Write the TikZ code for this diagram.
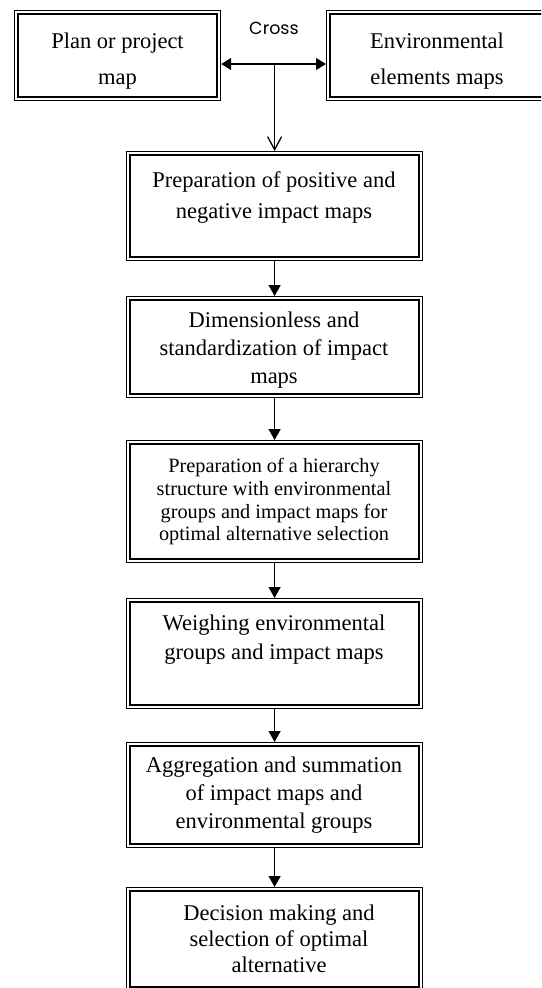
\documentclass[tikz,border=0pt]{standalone}
\usepackage{fontspec}
\setmainfont{Liberation Serif}
\newfontfamily\crossfont{Poppins}
\usetikzlibrary{arrows.meta,calc}
\newcommand\dblbox[5]{%
  \node[box, minimum width=#4pt, minimum height=#5pt] (#1) at (#2,#3) {};
  \draw[inner] ($(#1.north west)+(4pt,-4pt)$) rectangle ($(#1.south east)+(-4pt,4pt)$);
}
\begin{document}
\begin{tikzpicture}[x=1pt,y=-1pt,
  box/.style={draw, line width=1.2pt, inner sep=0pt, anchor=north west},
  inner/.style={line width=2.4pt},
  lbl/.style={anchor=north, align=center, inner sep=0pt, font=\fontsize{22.5}{28}\selectfont},
  conn/.style={line width=1.3pt, -{Triangle[length=11pt,width=12pt]}},
]
\useasboundingbox (0,0) rectangle (541,988);
\clip (0,0) rectangle (541,988);

% top boxes
\dblbox{tl}{14}{10}{206}{90}
\dblbox{tr}{326}{10}{222}{90}
\node[lbl, font=\fontsize{22.5}{36}\selectfont] (ttl) at (117.5,32.6) {Plan or project\\map};
\node[lbl, font=\fontsize{22.5}{36}\selectfont] (ttr) at (437,32.6) {Environmental\\elements maps};

% main boxes
\dblbox{b1}{126}{151}{296}{109}
\dblbox{b2}{126}{296}{296}{101}
\dblbox{b3}{126}{440}{296}{122}
\dblbox{b4}{126}{598}{296}{110}
\dblbox{b5}{126}{742}{296}{105}
\dblbox{b6}{126}{887}{296}{103}

\node[lbl, font=\fontsize{22.5}{31}\selectfont] (t1) at (274,171.6) {Preparation of positive and\\negative impact maps};
\node[lbl] (t2) at (274,311.6) {Dimensionless and\\standardization of impact\\maps};
\node[lbl, font=\fontsize{20.3}{22.7}\selectfont] (t3) at (274,458.1) {Preparation of a hierarchy\\structure with environmental\\groups and impact maps for\\optimal alternative selection};
\node[lbl, font=\fontsize{22.5}{29}\selectfont] (t4) at (274,614.6) {Weighing environmental\\groups and impact maps};
\node[lbl] (t5) at (274,756.6) {Aggregation and summation\\of impact maps and\\environmental groups};
\node[lbl, font=\fontsize{22.5}{26}\selectfont] (t6) at (279,904.6) {Decision making and\\selection of optimal\\alternative};

% cross connector
\coordinate (mid) at (b1.north |- 0,64);
\node[anchor=base, inner sep=0pt, font=\crossfont\fontsize{17.5}{20}\selectfont] (cross) at (274,34) {Cross};
\draw[line width=1.3pt, {Triangle[length=10pt,width=12pt]}-{Triangle[length=10pt,width=12pt]}] (tl.east |- mid) -- (tr.west |- mid);
\draw[line width=1.3pt, -{Straight Barb[length=13pt,width=14pt]}] (mid) -- (b1.north);

% flow arrows
\draw[conn] (b1.south) -- (b2.north);
\draw[conn] (b2.south) -- (b3.north);
\draw[conn] (b3.south) -- (b4.north);
\draw[conn] (b4.south) -- (b5.north);
\draw[conn] (b5.south) -- (b6.north);
\end{tikzpicture}
\end{document}
